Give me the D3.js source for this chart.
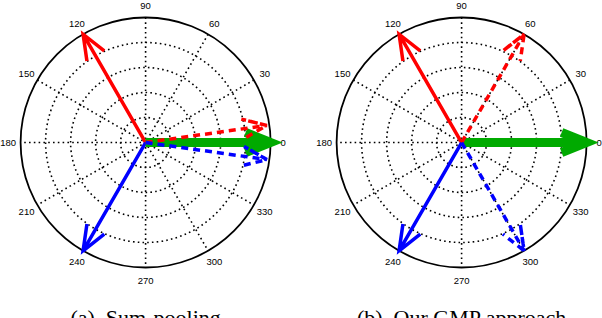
<!DOCTYPE html>
<html lang="en">
<head>
    <meta charset="UTF-8">
    <title>Compass plots</title>
    <script src="https://d3js.org/d3.v7.min.js"></script>
    <style>
        body { margin: 0; background: #fff; }
        svg text.tick { font-family: "Liberation Sans", Arial, Helvetica, sans-serif; font-size: 9.5px; fill: #000; }
        svg text.caption { font-family: "Liberation Serif", "Times New Roman", serif; font-size: 22px; fill: #000; }
        .grid { fill: none; stroke: #000; stroke-width: 1.6; stroke-dasharray: 1.6,3.2; }
    </style>
</head>
<body>
    <svg id="viz" width="602" height="318"></svg>
    <script>
        // Chart data
        const captions = ["(a)\u00a0\u00a0Sum-pooling", "(b)\u00a0\u00a0Our GMP approach"];
        const angleTicks = [0, 30, 60, 90, 120, 150, 180, 210, 240, 270, 300, 330];
        const ringTicks = [0.2, 0.4, 0.6, 0.8];

        // vectors: red solid, blue solid, green, red dashed, blue dashed
        const sumAngles = [120, 240, 0, 8, 352];
        const sumLengths = [1, 1, 1, 0.98, 0.98];
        const gmpAngles = [120, 240, 0, 60, 300];
        const gmpLengths = [1, 1, 1, 1, 1];

        // Styles
        const vecColors = ["#ff0000", "#0000ff", "#00aa00", "#ff0000", "#0000ff"];
        const vecWidths = [3.5, 3.5, 9, 3.5, 3.5];
        const vecDash = [null, null, null, "7,5", "7,5"];

        const svg = d3.select("#viz");
        const radius = 125;
        const centers = [[145.6, 142.5], [461.6, 142.5]];
        const r = d3.scaleLinear().domain([0, 1]).range([0, radius]);

        const panelData = [
            { angles: sumAngles, lengths: sumLengths },
            { angles: gmpAngles, lengths: gmpLengths }
        ];

        const rad = a => a * Math.PI / 180;
        // MATLAB compass arrow shape in unit coords
        const arrowShape = [[0, 0], [1, 0], [0.8, 0.08], [1, 0], [0.8, -0.08]];

        panelData.forEach((pd, i) => {
            const [cx, cy] = centers[i];
            const g = svg.append("g").attr("transform", `translate(${cx},${cy})`);

            // dotted rings
            g.selectAll("circle.ring")
                .data(ringTicks)
                .enter().append("circle")
                .attr("class", "grid")
                .attr("r", d => r(d));

            // dotted spokes (full diameters)
            g.selectAll("line.spoke")
                .data(angleTicks.filter(a => a < 180))
                .enter().append("line")
                .attr("class", "grid")
                .attr("x1", d => r(1) * Math.cos(rad(d)))
                .attr("y1", d => -r(1) * Math.sin(rad(d)))
                .attr("x2", d => -r(1) * Math.cos(rad(d)))
                .attr("y2", d => r(1) * Math.sin(rad(d)));

            // outer circle
            g.append("circle")
                .attr("r", r(1))
                .attr("fill", "none")
                .attr("stroke", "#000")
                .attr("stroke-width", 1.8);

            // angle labels
            g.selectAll("text.tick")
                .data(angleTicks)
                .enter().append("text")
                .attr("class", "tick")
                .attr("x", d => r(1.1) * Math.cos(rad(d)))
                .attr("y", d => -r(1.1) * Math.sin(rad(d)))
                .attr("text-anchor", "middle")
                .attr("dominant-baseline", "central")
                .text(d => d);

            // vectors
            const line = d3.line();
            pd.angles.forEach((ang, k) => {
                const len = pd.lengths[k];
                const c = Math.cos(rad(ang)), s = Math.sin(rad(ang));
                const pts = arrowShape.map(([u, v]) => {
                    const x = r(len * u), y = r(len * v);
                    return [x * c - y * s, -(x * s + y * c)];
                });
                const p = g.append("path")
                    .attr("d", line(pts))
                    .attr("fill", "none")
                    .attr("stroke", vecColors[k])
                    .attr("stroke-width", vecWidths[k])
                    .attr("stroke-linejoin", "miter")
                    .attr("stroke-linecap", "butt");
                if (vecDash[k]) p.attr("stroke-dasharray", vecDash[k]);
            });

            // caption
            svg.append("text")
                .attr("class", "caption")
                .attr("x", cx)
                .attr("y", 325)
                .attr("text-anchor", "middle")
                .text(captions[i]);
        });
    </script>
</body>
</html>
